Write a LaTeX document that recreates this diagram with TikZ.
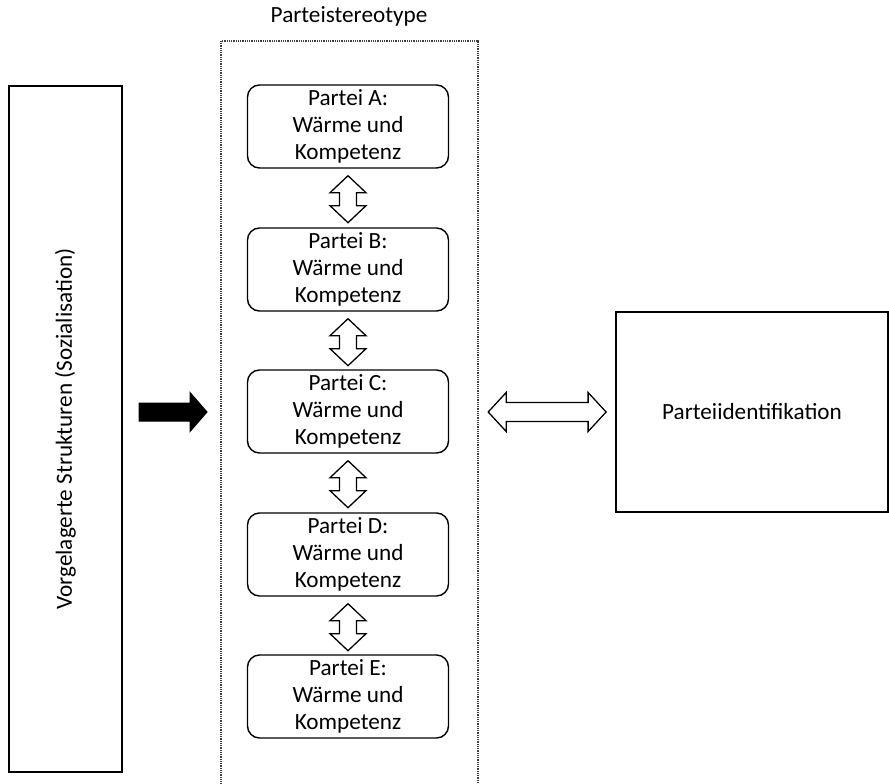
\documentclass[tikz,border=0pt]{standalone}
\usepackage{fontspec}
\setmainfont{Carlito}
\usetikzlibrary{calc}
\tikzset{
  txt/.style={font=\fontsize{23.2}{27}\selectfont},
  partybox/.style={txt, draw, line width=1.4pt, rounded corners=12pt, minimum width=201pt, minimum height=83pt, align=center, inner sep=0pt},
  bigbox/.style={txt, draw, line width=1.8pt, inner sep=0pt},
  dotbox/.style={draw=black!75, line width=1.1pt, dash pattern=on 0.9pt off 0.9pt},
  hollowarrow/.style={draw, line width=1.3pt, fill=white, line join=miter},
  solidarrow/.style={draw, fill=black, line width=1pt, line join=miter}
}
\begin{document}
\begin{tikzpicture}[x=1pt,y=-1pt]
\useasboundingbox (0,0) rectangle (889,784);
\begin{scope}
\clip (0,0) rectangle (889,784);
\draw[dotbox] (221,41) rectangle (478,800);
\end{scope}
\node[txt] (title) at (349,16) {Parteistereotype};
\node[bigbox, minimum width=113pt, minimum height=686pt] (left) at (65.5,429) {};
\node[txt, rotate=90] (lefttxt) at (left.center) {Vorgelagerte Strukturen (Sozialisation)};
\node[bigbox, minimum width=272pt, minimum height=200pt] (pid) at (752,412) {Parteiidentifikation};
\node[partybox] (A) at (348,126.5) {Partei A:\\Wärme und\\Kompetenz};
\node[partybox] (B) at (348,269.5) {Partei B:\\Wärme und\\Kompetenz};
\node[partybox] (C) at (348,411.5) {Partei C:\\Wärme und\\Kompetenz};
\node[partybox] (D) at (348,554.5) {Partei D:\\Wärme und\\Kompetenz};
\node[partybox] (E) at (348,696.5) {Partei E:\\Wärme und\\Kompetenz};
\coordinate (leftend) at (139,412);
\coordinate (dotwest) at (221,412);
\newcommand\vdblarrow[1]{%
  \draw[hollowarrow] ($(#1.south)+(0,7)$) -- ++(-18,17) -- ++(9.5,0) -- ++(0,13) -- ++(-9.5,0) -- ++(18,17) -- ++(18,-17) -- ++(-9.5,0) -- ++(0,-13) -- ++(9.5,0) -- cycle;}
\vdblarrow{A}
\vdblarrow{B}
\vdblarrow{C}
\vdblarrow{D}
% horizontal double arrow C <-> pid
\draw[hollowarrow] ($(C.east)+(39,0.5)$) -- ++(18,-19.5) -- ++(0,10) -- ($(pid.west)+(-27,-9.5)$) -- ++(0,-10) -- ++(18,19.5) -- ++(-18,19.5) -- ++(0,-10) -- ($(C.east)+(57,10)$) -- ++(0,10) -- cycle;
% solid arrow left -> stereotypes
\draw[solidarrow] ($(leftend)+(0,-9)$) -- ($(dotwest)+(-31,-9)$) -- ++(0,-10.5) -- ($(dotwest)+(-14,0)$) -- ++(-17,19.5) -- ++(0,-10.5) -- ($(leftend)+(0,9)$) -- cycle;
\end{tikzpicture}
\end{document}
